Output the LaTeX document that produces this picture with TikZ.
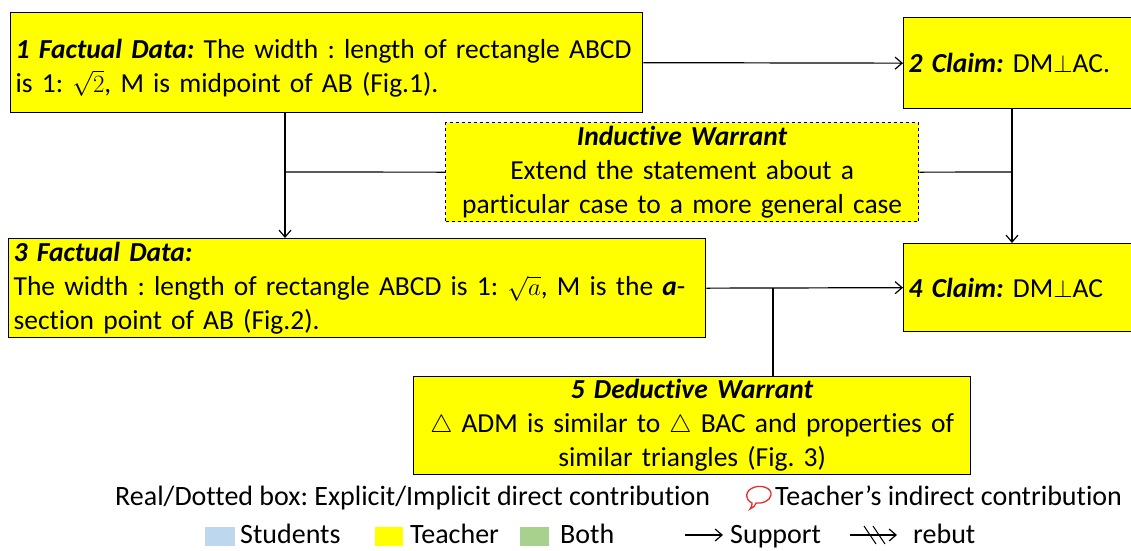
\documentclass[tikz,border=0pt]{standalone}
\usepackage{fontspec}
\setmainfont{Carlito}[Ligatures=NoCommon]
\usetikzlibrary{arrows.meta}
\definecolor{tyellow}{HTML}{FFFF00}
\definecolor{sblue}{HTML}{BDD7EE}
\definecolor{bgreen}{HTML}{A9D18E}
\definecolor{bred}{HTML}{E0302A}
\frenchspacing
\begin{document}
\begin{tikzpicture}[x=1pt,y=-1pt,
  box/.style={draw=black, line width=1.3pt, fill=tyellow, anchor=north west,
    inner xsep=5pt, inner ysep=0pt, font=\fontsize{27.5}{34}\selectfont},
  conn/.style={line width=1.2pt, -{Straight Barb[length=7pt,width=12pt,line width=1.2pt]}},
  line/.style={line width=1.2pt},
  leg/.style={anchor=base west, inner sep=0pt, font=\fontsize{28}{32}\selectfont},
  hd/.style={font=\bfseries\itshape}]
\useasboundingbox[fill=white] (0,0) rectangle (1131,550);

\node[box, minimum width=632pt, minimum height=100pt, text width=622pt, align=left] (b1) at (10,12)
  {\rule{0pt}{30pt}\textbf{\textit{1 Factual Data:}} The width : length of rectangle ABCD\\ is 1: $\sqrt{2}$, M is midpoint of AB (Fig.1).};
\node[box, minimum width=229pt, minimum height=91pt, text width=219pt, align=left] (b2) at (903,17)
  {\textbf{\textit{2 Claim:}} DM$\mathord{\perp}$AC.};
\node[box, dashed, minimum width=473pt, minimum height=99pt, text width=463pt, align=center] (iw) at (445,122)
  {\textbf{\textit{Inductive Warrant}}\\ Extend the statement about a\\ particular case to a more general case};
\node[box, minimum width=697pt, minimum height=99pt, text width=687pt, align=left] (b3) at (8,238)
  {\textbf{\textit{3 Factual Data:}}\\ The width : length of rectangle ABCD is 1: $\sqrt{a}$, M is the \textbf{\textit{a}}-\\ section point of AB (Fig.2).};
\node[box, minimum width=229pt, minimum height=88pt, text width=219pt, align=left] (b4) at (903,243)
  {\textbf{\textit{4 Claim:}} DM$\mathord{\perp}$AC};
\node[box, minimum width=557pt, minimum height=98pt, text width=547pt, align=center] (b5) at (413,376)
  {\textbf{\textit{5 Deductive Warrant}}\\ $\triangle$ ADM is similar to $\triangle$ BAC and properties of\\ similar triangles (Fig. 3)};

\coordinate (j1) at (285,172);
\coordinate (j2) at (1012,172);
\coordinate (j3) at (773,290);
\draw[conn] (b1.east) -- (b2.west);
\draw[conn] (b1.south -| j1) -- (b3.north -| j1);
\draw[line] (j1) -- (iw.west);
\draw[conn] (b2.south -| j2) -- (b4.north -| j2);
\draw[line] (iw.east) -- (j2);
\draw[conn] (b3.east) -- (b4.west);
\draw[line] (b3.east -| j3) -- (b5.north -| j3);

% legend
\node[leg] (l1) at (115,505) {Real/Dotted box: Explicit/Implicit direct contribution};
\draw[bred, line width=1.3pt] (752,503) .. controls (745,500) and (744,490) .. (755,487)
  .. controls (762,485) and (772,488) .. (771,495) .. controls (770,501) and (762,504) .. (756,503)
  .. controls (755,506) .. (750,509) .. controls (752,506) .. (752,503) -- cycle;
\node[leg] (l2) at (775,505) {Teacher’s indirect contribution};

\node[draw=none, fill=sblue, anchor=north west, minimum width=30pt, minimum height=19pt, inner sep=0pt] (sq1) at (205,527) {};
\node[leg] (t1) at (240,543) {Students};
\node[draw=none, fill=tyellow, anchor=north west, minimum width=28pt, minimum height=19pt, inner sep=0pt] (sq2) at (375,527) {};
\node[leg] (t2) at (410,543) {Teacher};
\node[draw=none, fill=bgreen, anchor=north west, minimum width=29pt, minimum height=19pt, inner sep=0pt] (sq3) at (520,527) {};
\node[leg] (t3) at (560,543) {Both};

\coordinate (s0) at (685,535);
\coordinate (s1) at (723,535);
\draw[conn, line width=1.1pt] (s0) -- (s1);
\node[leg] (t4) at (730,543) {Support};
\coordinate (r0) at (850,535);
\coordinate (r1) at (897,535);
\draw[conn, line width=1.1pt] (r0) -- (r1);
\draw[line, line width=1.1pt] (864,526) -- (876,544);
\draw[line, line width=1.1pt] (873,526) -- (885,544);
\node[leg] (t5) at (913,543) {rebut};
\end{tikzpicture}
\end{document}
